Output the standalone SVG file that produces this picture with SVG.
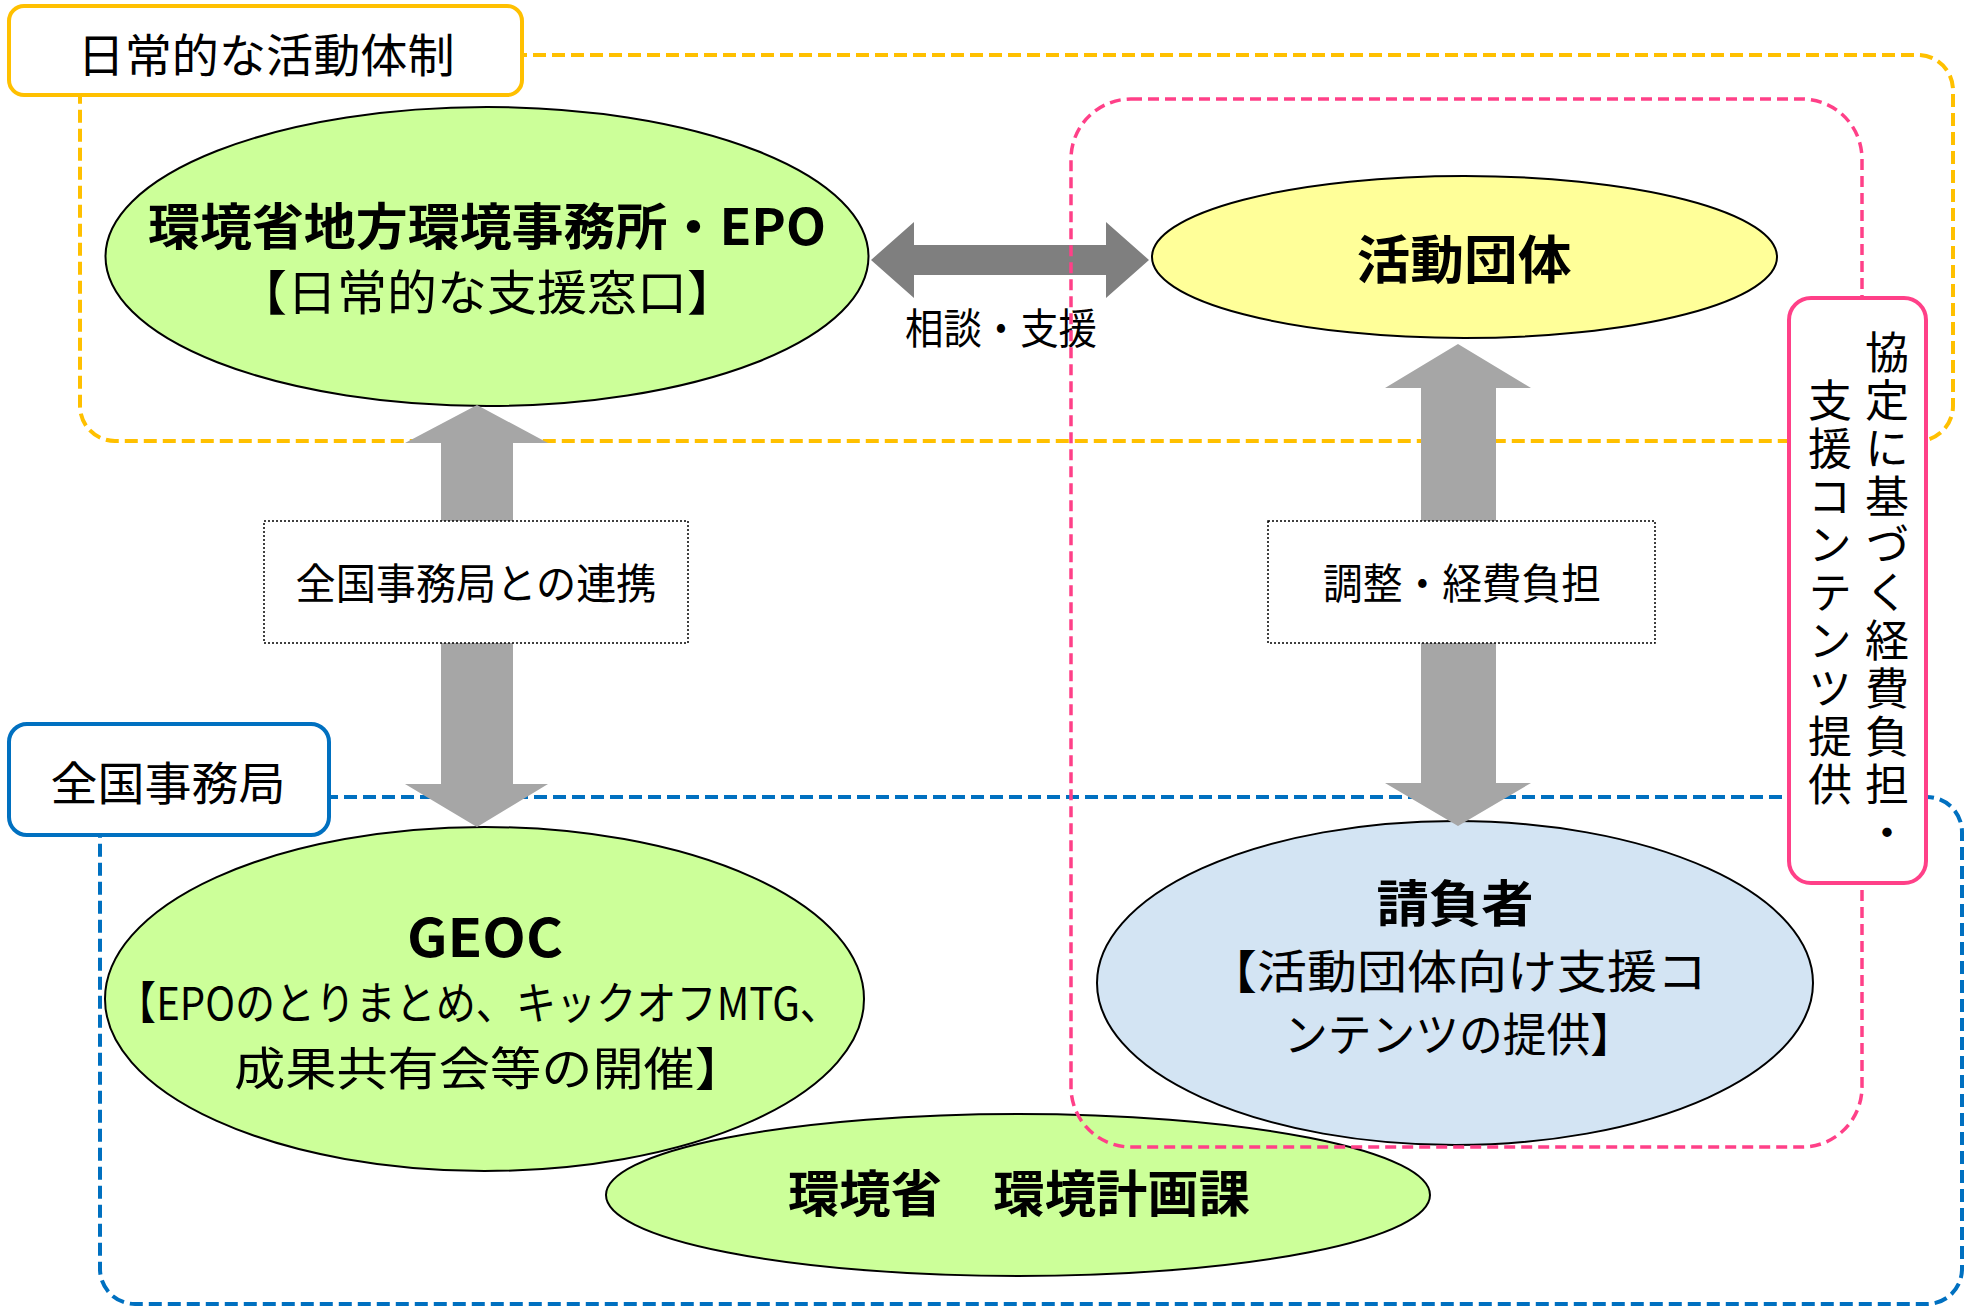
<svg xmlns="http://www.w3.org/2000/svg" width="1966" height="1307" viewBox="0 0 1966 1307">
<style>
text{font-family:"Noto Sans CJK JP","Noto Sans",sans-serif;fill:#000;text-anchor:middle}
.b{font-weight:bold}
.ell{stroke:#000;stroke-width:2}
.green{fill:#CCFF99}
.dash-y{fill:none;stroke:#FFC000;stroke-width:4;stroke-dasharray:13 6}
.dash-b{fill:none;stroke:#0070C0;stroke-width:4;stroke-dasharray:13 6}
.dash-p{fill:none;stroke:#FF4088;stroke-width:3.5;stroke-dasharray:11 6}
.lbl{fill:#fff;stroke:#000;stroke-width:1.5;stroke-dasharray:2 2}
</style>
<rect width="1966" height="1307" fill="#fff"/>
<g id="group-daily">
<rect class="dash-y" x="80" y="55" width="1873" height="386" rx="35"/>
<rect x="9" y="6" width="513" height="89" rx="15" fill="#fff" stroke="#FFC000" stroke-width="4"/>
<text x="266" y="72" font-size="46" textLength="377" lengthAdjust="spacingAndGlyphs">日常的な活動体制</text>
</g>
<g id="group-national">
<rect class="dash-b" x="100" y="797" width="1862" height="507" rx="35"/>
<rect x="9" y="724" width="320" height="111" rx="18" fill="#fff" stroke="#0070C0" stroke-width="4"/>
<text x="168" y="800" font-size="46" textLength="235" lengthAdjust="spacingAndGlyphs">全国事務局</text>
</g>
<g id="node-epo">
<ellipse class="ell green" cx="487" cy="256.5" rx="381.5" ry="149.5"/>
<text class="b" x="487" y="245" font-size="50" textLength="678" lengthAdjust="spacingAndGlyphs">環境省地方環境事務所・EPO</text>
<text x="487" y="310" font-size="48" textLength="500" lengthAdjust="spacingAndGlyphs">【日常的な支援窓口】</text>
</g>
<g id="node-katsudo">
<ellipse class="ell" fill="#FFFF99" cx="1464.5" cy="257" rx="312.5" ry="81"/>
<text class="b" x="1464" y="279" font-size="52" textLength="215" lengthAdjust="spacingAndGlyphs">活動団体</text>
</g>
<g id="node-geoc">
<ellipse class="ell green" cx="484.5" cy="999" rx="379.5" ry="172"/>
<text class="b" x="485" y="957" font-size="53" textLength="156" lengthAdjust="spacingAndGlyphs">GEOC</text>
<text x="478" y="1020" font-size="45" textLength="724" lengthAdjust="spacingAndGlyphs">【EPOのとりまとめ、キックオフMTG、</text>
<text x="490" y="1085" font-size="46" textLength="512" lengthAdjust="spacingAndGlyphs">成果共有会等の開催】</text>
</g>
<g id="node-moe">
<ellipse class="ell green" cx="1018" cy="1195" rx="412" ry="81"/>
<text class="b" x="1019" y="1212" font-size="50" textLength="462" lengthAdjust="spacingAndGlyphs">環境省　環境計画課</text>
</g>
<g id="node-contractor">
<ellipse class="ell" fill="#D3E4F3" cx="1455" cy="983" rx="358" ry="162"/>
<text class="b" x="1455" y="922" font-size="50" textLength="157" lengthAdjust="spacingAndGlyphs">請負者</text>
<text x="1457" y="988" font-size="46" textLength="500" lengthAdjust="spacingAndGlyphs">【活動団体向け支援コ</text>
<text x="1459" y="1051" font-size="46" textLength="350" lengthAdjust="spacingAndGlyphs">ンテンツの提供】</text>
</g>
<g id="connectors">
<polygon fill="#7F7F7F" points="871,260 914,222 914,245 1106,245 1106,222 1149,260 1106,298 1106,275 914,275 914,298"/>
<polygon fill="#A6A6A6" points="477,405 548,443 513,443 513,784 548,784 477,827 405,784 441,784 441,443 405,443"/>
<polygon fill="#A6A6A6" points="1458,344 1531,388 1496,388 1496,783 1531,783 1458,826 1385,783 1421,783 1421,388 1385,388"/>
</g>
<g id="label-consult">
<text x="1001" y="344" font-size="42" textLength="192" lengthAdjust="spacingAndGlyphs">相談・支援</text>
</g>
<g id="label-renkei">
<rect class="lbl" x="264" y="521" width="424" height="122"/>
<text x="476" y="599" font-size="42" textLength="361" lengthAdjust="spacingAndGlyphs">全国事務局との連携</text>
</g>
<g id="label-chosei">
<rect class="lbl" x="1268" y="521" width="387" height="122"/>
<text x="1462" y="599" font-size="42" textLength="278" lengthAdjust="spacingAndGlyphs">調整・経費負担</text>
</g>
<g id="group-agreement">
<rect class="dash-p" x="1071" y="99" width="791" height="1048" rx="60"/>
</g>
<g id="node-agreement">
<rect x="1789" y="298" width="137" height="585" rx="22" fill="#fff" stroke="#FF4088" stroke-width="4"/>
<text x="1887" y="330" font-size="44" letter-spacing="4" style="writing-mode:vertical-rl;text-anchor:start">協定に基づく経費負担・</text>
<text x="1830" y="378" font-size="44" letter-spacing="4" style="writing-mode:vertical-rl;text-anchor:start">支援コンテンツ提供</text>
</g>
</svg>
